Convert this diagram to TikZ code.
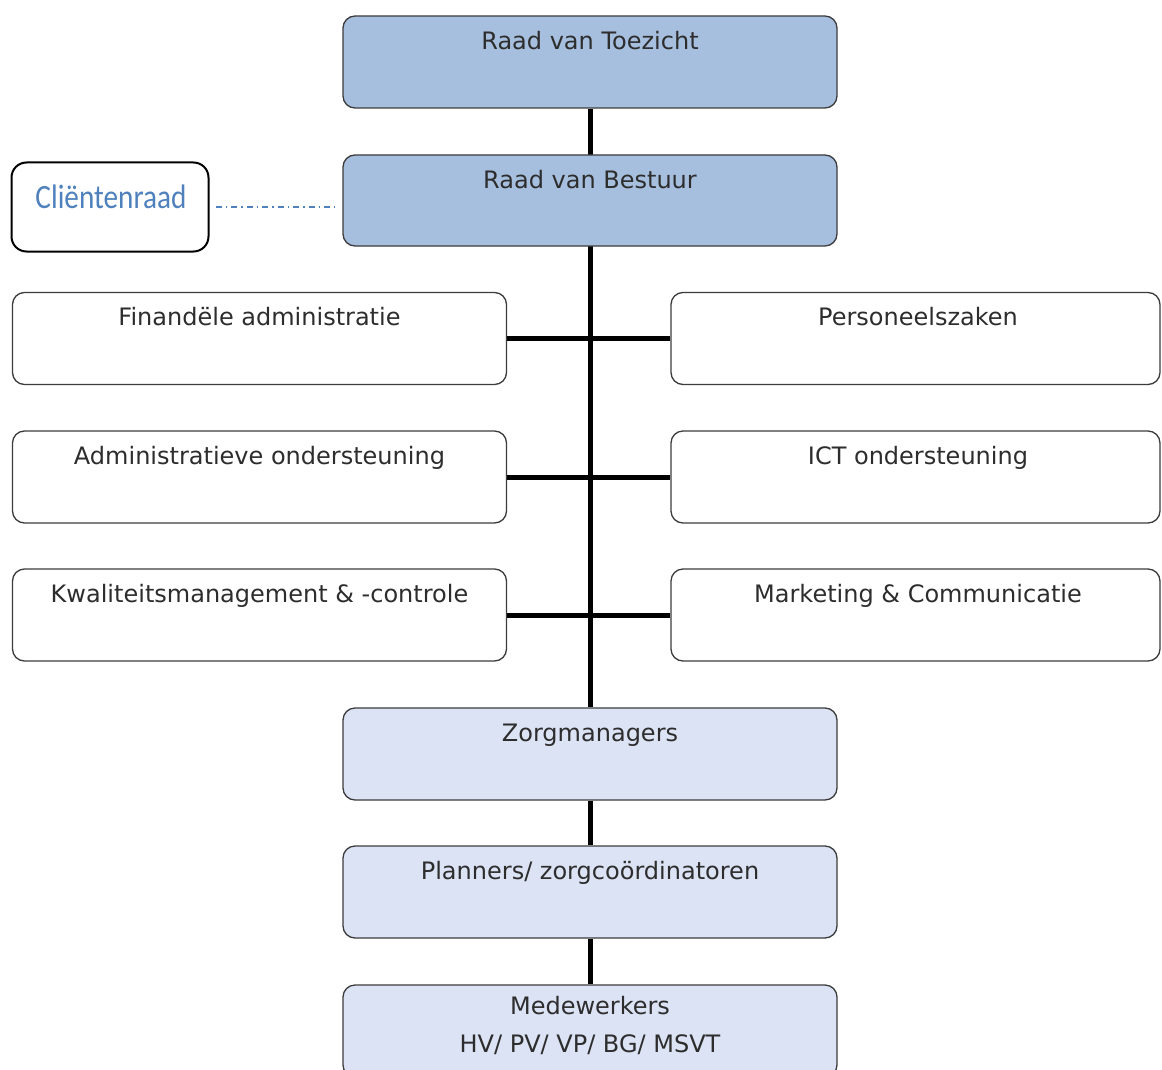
\documentclass[tikz,border=0pt]{standalone}
\usepackage{fontspec}
\usepackage{graphicx}
\setmainfont{DejaVu Sans}
\newfontfamily\calib{Carlito}
\definecolor{topblue}{RGB}{167,191,223}
\definecolor{lowblue}{RGB}{220,227,245}
\definecolor{crblue}{RGB}{79,129,189}
\definecolor{edgegray}{RGB}{60,60,60}
\definecolor{txtgray}{RGB}{45,45,45}
\pgfdeclarelayer{bgfill}
\pgfdeclarelayer{background}
\pgfsetlayers{bgfill,background,main}
\begin{document}
\begin{tikzpicture}[x=1pt,y=-1pt,
  orgbox/.style={draw=edgegray, line width=1.3pt, rounded corners=12pt,
    minimum height=92pt, inner sep=0pt},
  widebox/.style={orgbox, minimum width=494pt},
  sidebox/.style={orgbox, minimum width=494pt},
  lbl/.style={font=\fontsize{24}{29}\selectfont, text=txtgray, inner sep=0pt, anchor=base},
  trunk/.style={line width=5pt, black},
  crline/.style={draw=crblue, line width=1.3pt, dash pattern=on 6pt off 4pt on 1.5pt off 4pt}]
\clip (0,0) rectangle (1162,1070);
\begin{pgfonlayer}{bgfill}
\fill[white] (0,0) rectangle (1162,1070);
\end{pgfonlayer}

% boxes
\node[widebox, fill=topblue] (rvt) at (590,62) {};
\node[widebox, fill=topblue, minimum height=91pt] (rvb) at (590,200.5) {};
\node[draw=black, line width=2pt, rounded corners=15pt, fill=white,
      minimum width=197pt, minimum height=89pt, inner sep=0pt] (cr) at (110,207) {};
\node[sidebox, fill=white] (fin) at (259.5,338.5) {};
\node[orgbox, fill=white, minimum width=489pt] (pers) at (915.5,338.5) {};
\node[sidebox, fill=white] (adm) at (259.5,477) {};
\node[orgbox, fill=white, minimum width=489pt] (ict) at (915.5,477) {};
\node[sidebox, fill=white] (kwal) at (259.5,615) {};
\node[orgbox, fill=white, minimum width=489pt] (mark) at (915.5,615) {};
\node[widebox, fill=lowblue] (zorg) at (590,754) {};
\node[widebox, fill=lowblue] (plan) at (590,892) {};
\node[widebox, fill=lowblue] (mede) at (590,1031) {};

% connectors (behind the boxes)
\begin{pgfonlayer}{background}
\draw[trunk] (rvt.south) -- (zorg.north);
\draw[trunk] (fin.east) -- (pers.west);
\draw[trunk] (adm.east) -- (ict.west);
\draw[trunk] (kwal.east) -- (mark.west);
\draw[trunk] (zorg.south) -- (plan.north);
\draw[trunk] (plan.south) -- (mede.north);
\draw[crline, shorten <=6pt, shorten >=8pt] (cr.east) -- (rvb.west |- cr.east);
\end{pgfonlayer}

% texts
\node[lbl] (trvt) at (590,50) {Raad van Toezicht};
\node[lbl] (trvb) at (590,189) {Raad van Bestuur};
\node[anchor=base, inner sep=0pt, text=crblue, font=\calib\fontsize{34}{40}\selectfont] (tcr) at (111,208) {\scalebox{0.86}[1]{Cliëntenraad}};
\node[lbl] (tfin) at (259.5,325) {Finandële administratie};
\node[lbl] (tpers) at (918,325) {Personeelszaken};
\node[lbl] (tadm) at (259.5,464) {Administratieve ondersteuning};
\node[lbl] (tict) at (918,464) {ICT ondersteuning};
\node[lbl] (tkwal) at (259.5,602) {Kwaliteitsmanagement \& -controle};
\node[lbl] (tmark) at (918,602) {Marketing \& Communicatie};
\node[lbl] (tzorg) at (590,741) {Zorgmanagers};
\node[lbl] (tplan) at (590,879) {Planners/ zorgcoördinatoren};
\node[lbl, anchor=north, align=center, font=\fontsize{24}{38}\selectfont] (tmede) at (590,996) {Medewerkers\\HV/ PV/ VP/ BG/ MSVT};
\end{tikzpicture}
\end{document}
